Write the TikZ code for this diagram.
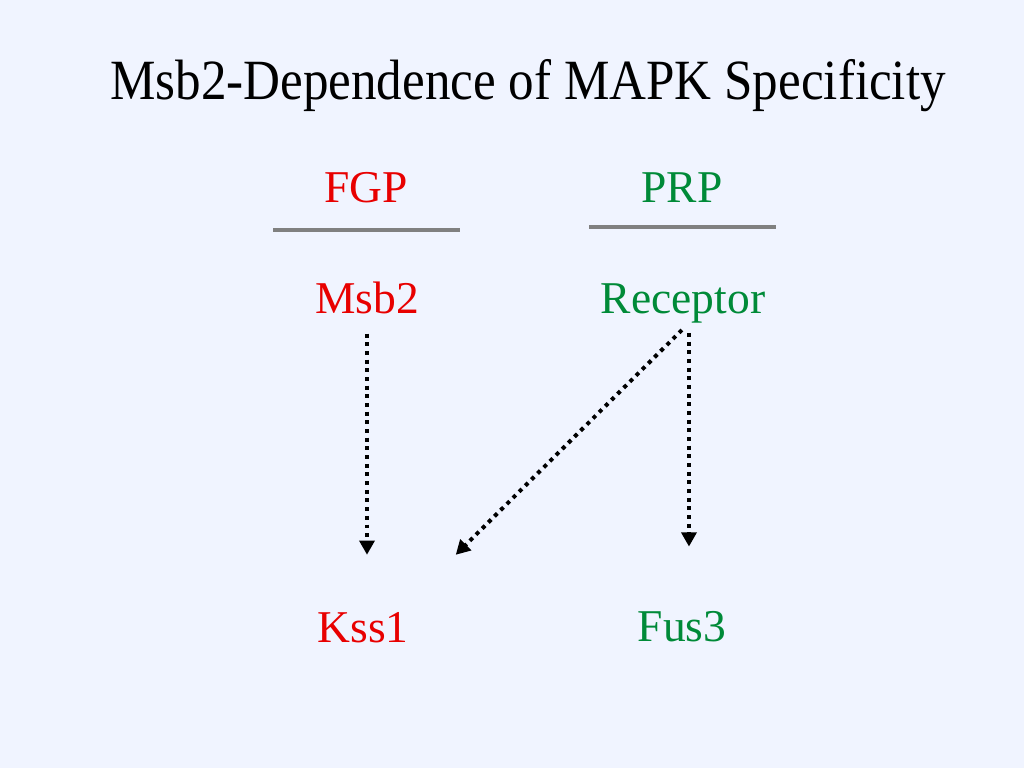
\documentclass[tikz,border=0pt]{standalone}
\usepackage{fontspec}
\usepackage{graphicx}
\setmainfont{Liberation Serif}
\usetikzlibrary{arrows.meta}
\definecolor{slidebg}{RGB}{240,244,255}
\definecolor{fgpred}{RGB}{232,0,0}
\definecolor{prpgreen}{RGB}{0,138,56}
\definecolor{rulegray}{RGB}{128,128,128}
\tikzset{
    label text/.style={inner sep=0pt, anchor=base, font=\fontsize{32}{38}\selectfont},
    fgp text/.style={label text, text=fgpred},
    prp text/.style={label text, text=prpgreen},
    rule line/.style={draw=rulegray, line width=2.3pt},
    signal/.style={line width=2.8pt, dash pattern=on 2.8pt off 3.3pt,
        -{Triangle[length=10pt,width=10.5pt]}},
}

\begin{document}
\begin{tikzpicture}[x=0.703125pt, y=-0.703125pt]
\fill[slidebg] (0,0) rectangle (1024,768);
\useasboundingbox (0,0) rectangle (1024,768);

\node[inner sep=0pt, anchor=base, font=\fontsize{40}{48}\selectfont] (title) at (528,100) {\scalebox{0.898}[1]{Msb2-Dependence of MAPK Specificity}};

\node[fgp text] (fgp) at (366,203) {FGP};
\node[prp text] (prp) at (682,203) {PRP};
\draw[rule line] (273,230) -- (460,230);
\draw[rule line] (589,227) -- (776,227);

\node[fgp text] (msb) at (367,313) {Msb2};
\node[prp text] (rec) at (683,313) {Receptor};
\node[fgp text] (kss) at (363,642) {Kss1};
\node[prp text] (fus) at (682,641) {Fus3};

\draw[signal, shorten <=14pt, shorten >=40pt] (msb.south) -- (msb.south |- kss.north);
\draw[signal, shorten <=7pt, shorten >=45pt] ([xshift=4.2pt]rec.south) -- ([xshift=4.2pt]rec.south |- fus.north);
\draw[signal, shorten <=7pt] ([xshift=4.2pt]rec.south) -- ([xshift=33pt,yshift=40pt]kss.north east);
\end{tikzpicture}
\end{document}
